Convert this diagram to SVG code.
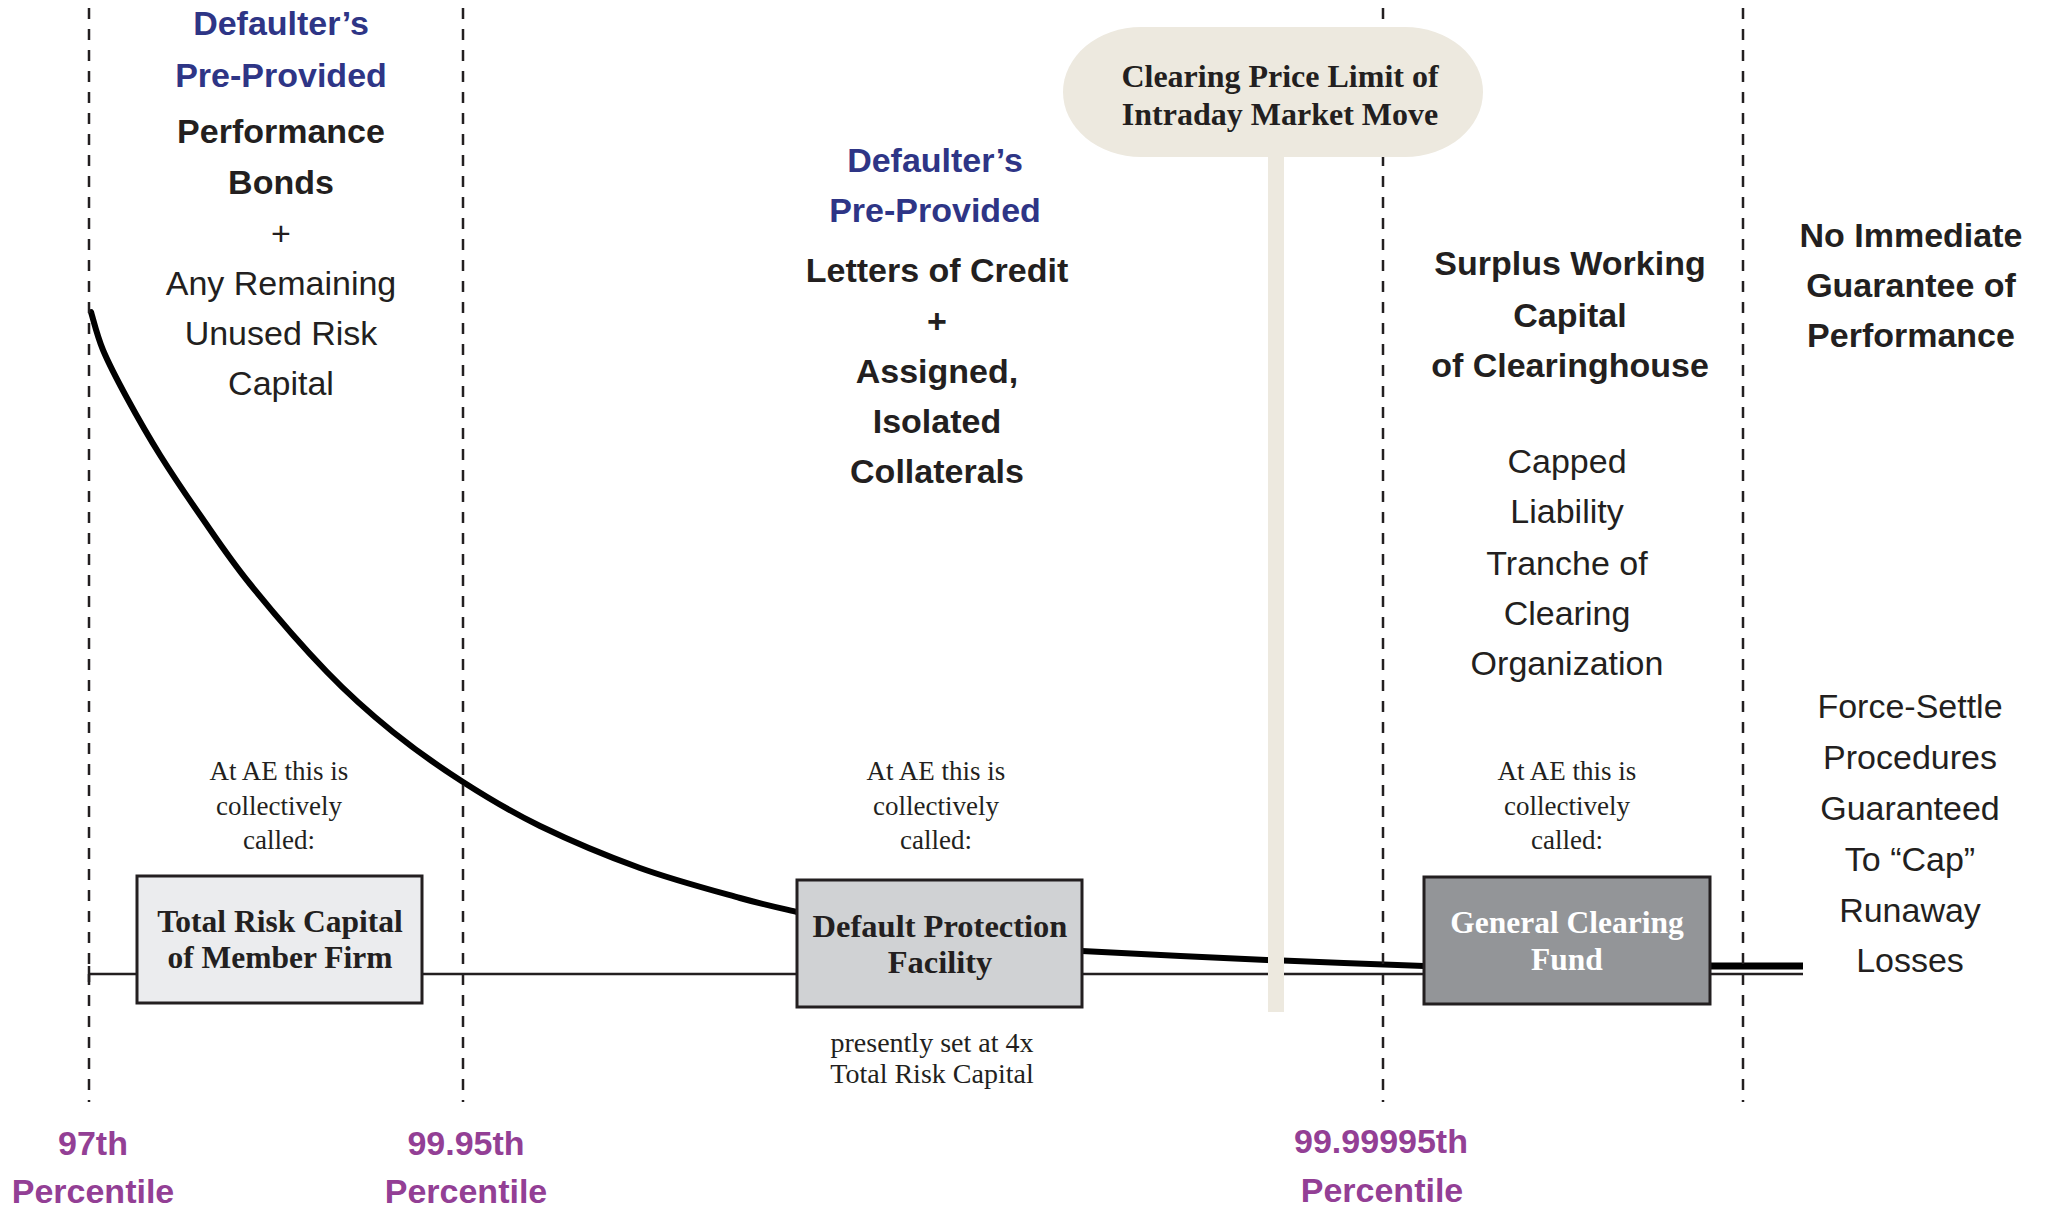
<svg xmlns="http://www.w3.org/2000/svg" width="2047" height="1207" viewBox="0 0 2047 1207">
<style>
.sb{font-family:"Liberation Sans",Arial,sans-serif;font-weight:700;font-size:34px;fill:#231f20;text-anchor:middle}
.sr{font-family:"Liberation Sans",Arial,sans-serif;font-size:34px;fill:#231f20;text-anchor:middle}
.nv{fill:#2e3586}
.pc{font-family:"Liberation Sans",Arial,sans-serif;font-weight:700;font-size:34px;fill:#933f95;text-anchor:middle}
.se{font-family:"Liberation Serif","Times New Roman",serif;font-size:27px;fill:#231f20;text-anchor:middle}
.sbx{font-family:"Liberation Serif","Times New Roman",serif;font-weight:700;font-size:31.5px;fill:#231f20;text-anchor:middle}
.dash{stroke:#231f20;stroke-width:2.5;stroke-dasharray:11 10;fill:none}
.box{stroke:#231f20;stroke-width:3}
</style>
<rect width="2047" height="1207" fill="#ffffff"/>

<g id="axis">
<line x1="89" y1="974" x2="1803" y2="974" stroke="#231f20" stroke-width="2.5"/>
<line x1="89" y1="966" x2="89" y2="982" stroke="#231f20" stroke-width="2.5"/>
</g>

<g id="connectors" fill="none" stroke="#000" stroke-linecap="round">
<path stroke-width="6" d="M91,312 C93,318.3 97,335.7 103,350 C109,364.3 117.5,380.5 127,398 C136.5,415.5 147.8,435.5 160,455 C172.2,474.5 185,493.5 200,515 C215,536.5 228.8,557.8 250,584 C271.2,610.2 303.2,647.3 327,672 C350.8,696.7 370.3,713.7 393,732 C415.7,750.3 438.5,766.3 463,782 C487.5,797.7 510.5,811.7 540,826 C569.5,840.3 606.7,856 640,868 C673.3,880 713.8,890.7 740,898 C766.2,905.3 787.5,909.7 797,912"/>
<path stroke-width="6" stroke-linecap="butt" d="M1082,951 Q1250,960 1424,966"/>
<line x1="1710" y1="966" x2="1803" y2="966" stroke-width="7" stroke-linecap="butt"/>
</g>

<g id="dividers">
<line class="dash" x1="89" y1="8" x2="89" y2="1102"/>
<line class="dash" x1="463" y1="8" x2="463" y2="1102"/>
<line class="dash" x1="1383" y1="8" x2="1383" y2="1102"/>
<line class="dash" x1="1743" y1="8" x2="1743" y2="1102"/>
</g>

<g id="price-limit">
<rect x="1268" y="150" width="16" height="862" fill="#ede9df"/>
<rect x="1063" y="27" width="420" height="130" rx="78" ry="65" fill="#ede9df"/>
<text class="sbx" x="1280" y="87" style="font-size:32px">Clearing Price Limit of</text>
<text class="sbx" x="1280" y="125" style="font-size:32px">Intraday Market Move</text>
</g>

<g id="col1-text">
<text class="sb nv" x="281" y="35">Defaulter’s</text>
<text class="sb nv" x="281" y="87">Pre-Provided</text>
<text class="sb" x="281" y="143">Performance</text>
<text class="sb" x="281" y="194">Bonds</text>
<text class="sr" x="281" y="245">+</text>
<text class="sr" x="281" y="295">Any Remaining</text>
<text class="sr" x="281" y="345">Unused Risk</text>
<text class="sr" x="281" y="395">Capital</text>
<text class="se" x="279" y="780">At AE this is</text>
<text class="se" x="279" y="815">collectively</text>
<text class="se" x="279" y="849">called:</text>
</g>

<g id="col2-text">
<text class="sb nv" x="935" y="172">Defaulter’s</text>
<text class="sb nv" x="935" y="222">Pre-Provided</text>
<text class="sb" x="937" y="282">Letters of Credit</text>
<text class="sb" x="937" y="333">+</text>
<text class="sb" x="937" y="383">Assigned,</text>
<text class="sb" x="937" y="433">Isolated</text>
<text class="sb" x="937" y="483">Collaterals</text>
<text class="se" x="936" y="780">At AE this is</text>
<text class="se" x="936" y="815">collectively</text>
<text class="se" x="936" y="849">called:</text>
<text class="se" x="932" y="1052" style="font-size:28px">presently set at 4x</text>
<text class="se" x="932" y="1083" style="font-size:28px">Total Risk Capital</text>
</g>

<g id="col3-text">
<text class="sb" x="1570" y="275">Surplus Working</text>
<text class="sb" x="1570" y="327">Capital</text>
<text class="sb" x="1570" y="377">of Clearinghouse</text>
<text class="sr" x="1567" y="473">Capped</text>
<text class="sr" x="1567" y="523">Liability</text>
<text class="sr" x="1567" y="575">Tranche of</text>
<text class="sr" x="1567" y="625">Clearing</text>
<text class="sr" x="1567" y="675">Organization</text>
<text class="se" x="1567" y="780">At AE this is</text>
<text class="se" x="1567" y="815">collectively</text>
<text class="se" x="1567" y="849">called:</text>
</g>

<g id="col4-text">
<text class="sb" x="1911" y="247">No Immediate</text>
<text class="sb" x="1911" y="297">Guarantee of</text>
<text class="sb" x="1911" y="347">Performance</text>
<text class="sr" x="1910" y="718">Force-Settle</text>
<text class="sr" x="1910" y="769">Procedures</text>
<text class="sr" x="1910" y="820">Guaranteed</text>
<text class="sr" x="1910" y="871">To “Cap”</text>
<text class="sr" x="1910" y="922">Runaway</text>
<text class="sr" x="1910" y="972">Losses</text>
</g>

<g id="node-total-risk-capital">
<rect class="box" x="137" y="876" width="285" height="127" fill="#ebecee"/>
<text class="sbx" x="280" y="932">Total Risk Capital</text>
<text class="sbx" x="280" y="968">of Member Firm</text>
</g>

<g id="node-default-protection">
<rect class="box" x="797" y="880" width="285" height="127" fill="#d0d2d4"/>
<text class="sbx" x="940" y="937" style="font-size:32.5px">Default Protection</text>
<text class="sbx" x="940" y="973" style="font-size:32.5px">Facility</text>
</g>

<g id="node-general-clearing-fund">
<rect class="box" x="1424" y="877" width="286" height="127" fill="#939598"/>
<text class="sbx" x="1567" y="933" style="fill:#ffffff">General Clearing</text>
<text class="sbx" x="1567" y="970" style="fill:#ffffff">Fund</text>
</g>

<g id="percentiles">
<text class="pc" x="93" y="1155">97th</text>
<text class="pc" x="93" y="1203">Percentile</text>
<text class="pc" x="466" y="1155">99.95th</text>
<text class="pc" x="466" y="1203">Percentile</text>
<text class="pc" x="1381" y="1153">99.99995th</text>
<text class="pc" x="1382" y="1202">Percentile</text>
</g>
</svg>
